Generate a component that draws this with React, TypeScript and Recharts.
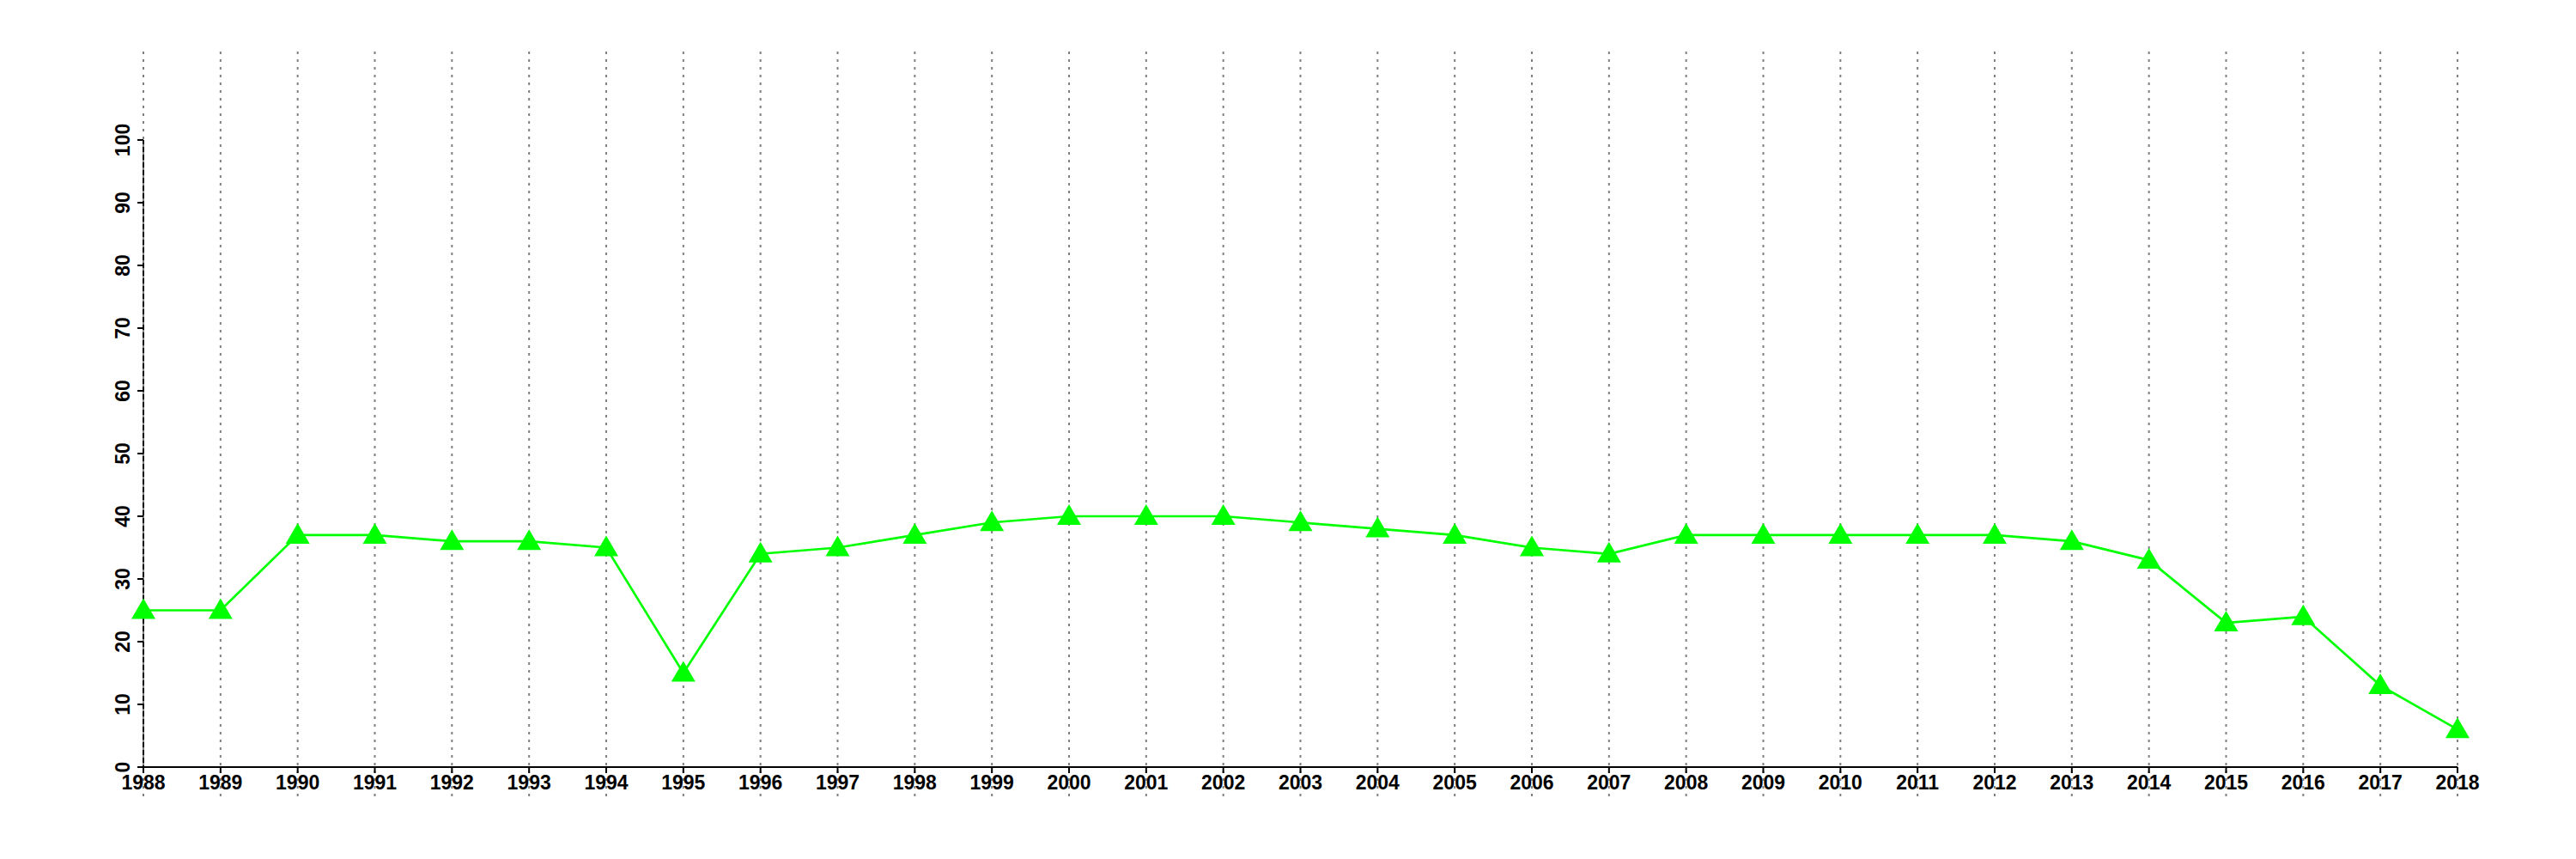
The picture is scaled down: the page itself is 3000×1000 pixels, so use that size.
import React from "react";
import {
  LineChart,
  Line,
  XAxis,
  YAxis,
  ReferenceLine,
} from "recharts";

const years = [
  1988, 1989, 1990, 1991, 1992, 1993, 1994, 1995, 1996, 1997, 1998, 1999,
  2000, 2001, 2002, 2003, 2004, 2005, 2006, 2007, 2008, 2009, 2010, 2011,
  2012, 2013, 2014, 2015, 2016, 2017, 2018,
];

const values = [
  25, 25, 37, 37, 36, 36, 35, 15, 34, 35, 37, 39, 40, 40, 40, 39, 38, 37, 35,
  34, 37, 37, 37, 37, 37, 36, 33, 23, 24, 13, 6,
];

const yTicks = [0, 10, 20, 30, 40, 50, 60, 70, 80, 90, 100];

const data = years.map((year, i) => ({ year, value: values[i] }));

const FONT = "'Liberation Sans', Arial, Helvetica, sans-serif";
const GREEN = "#00ff00";

// grid reaches a little past the axes, like the R plot
const GRID_TOP = 114.1;
const GRID_BOTTOM = -4.66;

function YTick({ x, y, payload }: any) {
  return (
    <text
      x={x}
      y={y}
      transform={`rotate(-90 ${x} ${y})`}
      textAnchor="middle"
      fontFamily={FONT}
      fontWeight="bold"
      fontSize={23}
      fill="#000"
    >
      {payload.value}
    </text>
  );
}

function Triangle(props: any) {
  const { cx, cy, index } = props;
  if (cx == null || cy == null) return <g key={index} />;
  return (
    <path
      key={index}
      d={`M${cx},${cy - 14} L${cx + 14},${cy + 10} L${cx - 14},${cy + 10} Z`}
      fill={GREEN}
    />
  );
}

export default function App() {
  return (
    <div
      style={{
        position: "absolute",
        left: 0,
        top: 0,
        width: 3000,
        height: 1000,
        background: "#fff",
      }}
    >
      <LineChart
        width={3000}
        height={1000}
        data={data}
        margin={{ top: 60, right: 138, bottom: 47, left: 107 }}
      >
        <XAxis
          dataKey="year"
          type="number"
          domain={[1988, 2018]}
          ticks={years}
          interval={0}
          height={60}
          tickSize={7}
          tickMargin={3}
          axisLine={{ stroke: "#000", strokeWidth: 2 }}
          tickLine={{ stroke: "#000", strokeWidth: 2 }}
          tick={{
            fill: "#000",
            fontFamily: FONT,
            fontWeight: "bold",
            fontSize: 23,
          }}
        />
        <YAxis
          type="number"
          domain={[0, GRID_TOP]}
          ticks={yTicks}
          interval={0}
          width={60}
          tickSize={7}
          tickMargin={9}
          axisLine={false}
          tickLine={{ stroke: "#000", strokeWidth: 2 }}
          tick={<YTick />}
        />
        <Line
          type="linear"
          dataKey="value"
          stroke={GREEN}
          strokeWidth={2.7}
          dot={Triangle}
          activeDot={false}
          isAnimationActive={false}
        />
        <ReferenceLine
          segment={[
            { x: 1988, y: 0 },
            { x: 1988, y: 100 },
          ]}
          stroke="#000"
          strokeWidth={2}
          ifOverflow="visible"
        />
        {years.map((yr) => (
          <ReferenceLine
            key={yr}
            segment={[
              { x: yr, y: GRID_BOTTOM },
              { x: yr, y: GRID_TOP },
            ]}
            stroke="#808080"
            strokeWidth={2}
            strokeDasharray="3 6"
            ifOverflow="visible"
          />
        ))}
      </LineChart>
    </div>
  );
}
